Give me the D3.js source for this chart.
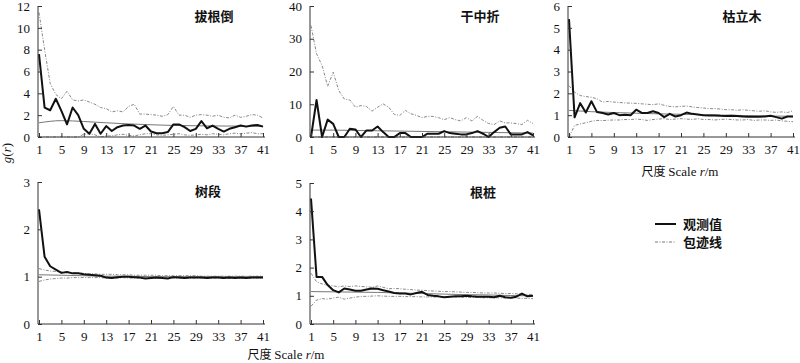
<!DOCTYPE html>
<html lang="en">
<head>
<meta charset="UTF-8">
<title>g(r) panels</title>
<style>
  body { margin: 0; background: #fff; }
  svg { display: block; }
  .ttl { font-family: "Noto Sans CJK SC", sans-serif; font-size: 13px; font-weight: bold; fill: #111; }
</style>
</head>
<body>
<svg id="chart" width="800" height="363"></svg>
<script src="https://d3js.org/d3.v7.min.js"></script>
<script>
// scale r (m), one point per metre
var scaleR = d3.range(1, 42);
// smooth expected curve is read at the tick positions only
var tickR = [1, 5, 9, 13, 17, 21, 25, 29, 33, 37, 41];

// 拔根倒
var obs1 = [7.6, 2.7, 2.45, 3.5, 2.4, 1.15, 2.7, 2.0, 0.75, 0.3, 1.2, 0.3, 1.0, 0.55, 0.9, 1.05, 1.1, 1.05, 0.75, 1.05,
            0.5, 0.35, 0.35, 0.45, 1.15, 1.15, 0.9, 0.55, 0.75, 1.45, 0.8, 1.05, 0.75, 0.5, 0.75, 0.9, 1.05, 0.95, 1.05, 1.1, 0.95];
var up1 = [11.4, 8.0, 4.9, 3.9, 3.5, 4.2, 3.4, 3.3, 3.4, 3.2, 3.0, 2.7, 2.6, 2.3, 2.4, 2.3, 2.8, 3.0, 2.1, 2.1,
           2.05, 2.0, 1.9, 2.05, 2.8, 2.0, 2.0, 1.8, 2.0, 2.05, 2.0, 1.9, 2.0, 1.8, 1.75, 2.0, 1.8, 1.9, 2.05, 2.0, 1.75];
var lo1 = [0, 0, 0, 0, 0, 0, 0, 0, 0.25, 0.3, 0.2, 0, 0.1, 0.1, 0.2, 0.25, 0.15, 0.1, 0.2, 0.3,
           0.3, 0.2, 0.15, 0.2, 0.25, 0.3, 0.2, 0.15, 0.2, 0.25, 0.2, 0.3, 0.25, 0.2, 0.3, 0.35, 0.3, 0.35, 0.4, 0.3, 0.3];
var exp1 = [1.3, 1.5, 1.42, 1.3, 1.2, 1.12, 1.06, 1.03, 1.01, 1.0, 0.98];

// 干中折
var obs2 = [0, 11.3, 0, 5.3, 4.0, 0, 0, 2.5, 2.3, 0, 2.0, 2.0, 3.2, 1.5, 0, 0, 1.2, 1.2, 0, 0,
            0, 1.0, 1.0, 1.0, 1.8, 1.2, 1.0, 0.8, 0.8, 1.2, 1.8, 1.0, 0, 1.5, 2.8, 3.2, 0.8, 0.8, 0.8, 1.5, 0.5];
var up2 = [34, 25.4, 21.8, 15.5, 19.8, 14.2, 11.6, 11.3, 9.1, 9.6, 9.3, 7.9, 9.1, 10.1, 9.1, 6.9, 6.6, 8.1, 7.1, 6.6,
           5.9, 6.3, 6.3, 5.9, 5.3, 5.9, 5.3, 4.9, 5.9, 4.9, 6.3, 5.1, 4.1, 3.8, 4.9, 4.3, 4.3, 4.1, 3.8, 5.1, 4.1];
var lo2 = [0, 0, 0, 0, 0, 0, 0, 0, 0, 0, 0, 0, 0, 0, 0, 0, 0, 0, 0, 0,
           0, 0, 0, 0, 0, 0, 0, 0, 0, 0, 0, 0, 0, 0, 0, 0, 0, 0, 0, 0, 0];
var exp2 = [2.1, 2.1, 2.0, 1.9, 1.8, 1.7, 1.6, 1.5, 1.4, 1.3, 1.2];

// 枯立木
var obs3 = [5.4, 0.9, 1.55, 1.12, 1.64, 1.14, 1.1, 1.03, 1.1, 1.0, 1.02, 1.0, 1.25, 1.1, 1.1, 1.18, 1.1, 0.91, 1.06, 0.94,
            1.0, 1.12, 1.06, 1.03, 1.0, 0.99, 0.99, 0.97, 0.96, 0.97, 0.96, 0.94, 0.93, 0.93, 0.93, 0.94, 0.97, 0.91, 0.84, 0.94, 0.94];
var up3 = [2.35, 2.05, 1.9, 1.85, 1.82, 1.75, 1.6, 1.63, 1.6, 1.58, 1.56, 1.55, 1.54, 1.52, 1.5, 1.48, 1.52, 1.45, 1.4, 1.38,
           1.4, 1.42, 1.38, 1.35, 1.33, 1.3, 1.3, 1.28, 1.25, 1.25, 1.22, 1.25, 1.22, 1.2, 1.18, 1.2, 1.15, 1.13, 1.15, 1.12, 1.2];
var lo3 = [0, 0.53, 0.6, 0.65, 0.72, 0.76, 0.75, 0.77, 0.78, 0.78, 0.8, 0.8, 0.82, 0.8, 0.76, 0.8, 0.82, 0.84, 0.8, 0.82,
           0.84, 0.82, 0.8, 0.84, 0.8, 0.8, 0.78, 0.8, 0.82, 0.8, 0.78, 0.78, 0.8, 0.76, 0.78, 0.78, 0.76, 0.78, 0.74, 0.72, 0.7];
var exp3 = [1.22, 1.16, 1.12, 1.09, 1.06, 1.04, 1.02, 1.0, 0.98, 0.96, 0.95];

// 树段
var obs4 = [2.42, 1.42, 1.22, 1.15, 1.08, 1.1, 1.07, 1.07, 1.05, 1.04, 1.03, 1.02, 0.98, 0.97, 0.99, 1.0, 1.0, 0.99, 0.98, 0.96,
            0.97, 0.98, 0.97, 0.96, 0.99, 0.98, 0.97, 0.98, 0.98, 0.98, 0.97, 0.98, 0.98, 0.97, 0.98, 0.97, 0.98, 0.97, 0.98, 0.98, 0.98];
var up4 = [1.17, 1.14, 1.12, 1.11, 1.1, 1.09, 1.08, 1.08, 1.07, 1.06, 1.06, 1.05, 1.05, 1.05, 1.04, 1.04, 1.04, 1.03, 1.03, 1.03,
           1.03, 1.03, 1.02, 1.02, 1.02, 1.02, 1.02, 1.02, 1.02, 1.01, 1.01, 1.01, 1.01, 1.01, 1.01, 1.01, 1.01, 1.01, 1.01, 1.01, 1.01];
var lo4 = [0.9, 0.93, 0.95, 0.96, 0.97, 0.97, 0.98, 0.98, 0.98, 0.98, 0.98, 0.98, 0.97, 0.97, 0.97, 0.98, 0.97, 0.97, 0.97, 0.97,
           0.97, 0.97, 0.97, 0.97, 0.97, 0.97, 0.97, 0.97, 0.97, 0.97, 0.97, 0.97, 0.97, 0.97, 0.97, 0.97, 0.97, 0.97, 0.97, 0.97, 0.97];
var exp4 = [1.04, 1.03, 1.02, 1.01, 1.01, 1.0, 1.0, 1.0, 1.0, 1.0, 1.0];

// 根桩
var obs5 = [4.45, 1.67, 1.67, 1.38, 1.2, 1.12, 1.26, 1.22, 1.18, 1.18, 1.22, 1.26, 1.25, 1.2, 1.15, 1.1, 1.08, 1.08, 1.05, 1.1,
            1.14, 1.03, 1.0, 0.98, 0.95, 0.97, 0.98, 0.98, 1.0, 0.98, 0.97, 0.97, 0.97, 0.95, 1.0, 0.95, 0.93, 0.97, 1.08, 0.98, 1.0];
var up5 = [1.8, 1.5, 1.42, 1.38, 1.35, 1.32, 1.35, 1.33, 1.35, 1.33, 1.32, 1.3, 1.35, 1.3, 1.25, 1.26, 1.25, 1.23, 1.22, 1.2,
           1.2, 1.18, 1.17, 1.16, 1.15, 1.15, 1.14, 1.13, 1.12, 1.12, 1.11, 1.1, 1.1, 1.1, 1.09, 1.08, 1.08, 1.07, 1.06, 1.05, 1.05];
var lo5 = [0.63, 0.85, 0.9, 0.88, 0.92, 0.95, 0.88, 0.92, 0.95, 0.98, 0.98, 0.99, 1.0, 0.99, 0.98, 0.98, 0.98, 0.97, 0.97, 0.97,
           0.96, 0.96, 0.96, 0.95, 0.95, 0.95, 0.95, 0.95, 0.94, 0.94, 0.94, 0.93, 0.93, 0.93, 0.93, 0.92, 0.92, 0.92, 0.91, 0.91, 0.9];
var exp5 = [1.15, 1.14, 1.13, 1.12, 1.1, 1.08, 1.06, 1.04, 1.03, 1.01, 1.0];

var titles = ['拔根倒', '干中折', '枯立木', '树段', '根桩'];
var yMax = [12, 40, 6, 3, 5];
var yStep = [2, 10, 1, 1, 1];
var legendLabels = ['观测值', '包迹线'];

var SERIF = '"Liberation Serif", "DejaVu Serif", serif';
var svg = d3.select('#chart');

// panel boxes: left/right of the x range, top/bottom of the y range
var boxes = [
  { x0: 39, x1: 263, y0: 137, y1: 6, tx: 214, ty: 21 },
  { x0: 311, x1: 533, y0: 137, y1: 6, tx: 480, ty: 21 },
  { x0: 569, x1: 793, y0: 137, y1: 6, tx: 742, ty: 21 },
  { x0: 39, x1: 263, y0: 324, y1: 182, tx: 208, ty: 196 },
  { x0: 311, x1: 533, y0: 324, y1: 183, tx: 483, ty: 197 }
];
var series = [
  [obs1, up1, lo1, exp1], [obs2, up2, lo2, exp2], [obs3, up3, lo3, exp3],
  [obs4, up4, lo4, exp4], [obs5, up5, lo5, exp5]
];

boxes.forEach(function(b, i) {
  var x = d3.scaleLinear().domain([1, 41]).range([b.x0, b.x1]);
  var y = d3.scaleLinear().domain([0, yMax[i]]).range([b.y0, b.y1]);
  var g = svg.append('g');

  var line = d3.line()
    .x(function(d, j) { return x(scaleR[j]); })
    .y(function(d) { return y(d); });
  var lineExp = d3.line()
    .x(function(d, j) { return x(tickR[j]); })
    .y(function(d) { return y(d); })
    .curve(d3.curveMonotoneX);

  var s = series[i];
  // expected curve
  g.append('path').datum(s[3]).attr('d', lineExp)
    .attr('fill', 'none').attr('stroke', '#777').attr('stroke-width', 1);
  // envelopes
  [s[1], s[2]].forEach(function(arr) {
    g.append('path').datum(arr).attr('d', line)
      .attr('fill', 'none').attr('stroke', '#888').attr('stroke-width', 1)
      .attr('stroke-dasharray', '3,1.5,1,1.5');
  });
  // observed
  g.append('path').datum(s[0]).attr('d', line)
    .attr('fill', 'none').attr('stroke', '#111').attr('stroke-width', 2)
    .attr('stroke-linejoin', 'round');

  // axes, ticks pointing inward
  var ax = g.append('g').attr('transform', 'translate(0,' + b.y0 + ')')
    .call(d3.axisBottom(x).tickValues(tickR).tickFormat(d3.format('d'))
      .tickSize(-4).tickSizeOuter(0).tickPadding(8));
  ax.select('.domain').remove();
  var ay = g.append('g').attr('transform', 'translate(' + (b.x0 - 1) + ',0)')
    .call(d3.axisLeft(y).tickValues(d3.range(0, yMax[i] + 0.001, yStep[i])).tickFormat(d3.format('d'))
      .tickSize(-4).tickSizeOuter(0).tickPadding(8));
  ay.select('.domain').remove();
  [ax, ay].forEach(function(a) {
    a.attr('font-family', SERIF).attr('font-size', 13);
    a.selectAll('text').attr('fill', '#111');
    a.selectAll('line').attr('stroke', '#333');
  });

  g.append('line').attr('x1', b.x0 - 1).attr('x2', b.x1 + 2).attr('y1', b.y0).attr('y2', b.y0)
    .attr('stroke', '#333').attr('stroke-width', 1);
  g.append('line').attr('x1', b.x0 - 1).attr('x2', b.x0 - 1).attr('y1', b.y0).attr('y2', b.y1)
    .attr('stroke', '#333').attr('stroke-width', 1);

  g.append('text').attr('class', 'ttl').attr('x', b.tx).attr('y', b.ty)
    .attr('text-anchor', 'middle').text(titles[i]);
});

// axis titles
function scaleLabel(cx, cy) {
  var t = svg.append('text').attr('x', cx).attr('y', cy).attr('text-anchor', 'middle')
    .attr('font-family', SERIF).attr('font-size', 13).attr('fill', '#111');
  t.append('tspan').attr('font-family', '"Noto Sans CJK SC", sans-serif').attr('font-size', 12).text('尺度 ');
  t.append('tspan').text('Scale ');
  t.append('tspan').attr('font-style', 'italic').text('r');
  t.append('tspan').text('/m');
}
scaleLabel(680, 176);
scaleLabel(286, 359);

var yl = svg.append('text').attr('transform', 'translate(11,153) rotate(-90)').attr('text-anchor', 'middle')
  .attr('font-family', SERIF).attr('font-size', 13).attr('fill', '#111');
yl.append('tspan').attr('font-style', 'italic').text('g');
yl.append('tspan').text('(');
yl.append('tspan').attr('font-style', 'italic').text('r');
yl.append('tspan').text(')');

// legend
var leg = svg.append('g');
legendLabels.forEach(function(lbl, i) {
  var ly = 224 + i * 18;
  leg.append('line').attr('x1', 655).attr('x2', 676).attr('y1', ly).attr('y2', ly)
    .attr('stroke', i === 0 ? '#111' : '#777').attr('stroke-width', i === 0 ? 2 : 1)
    .attr('stroke-dasharray', i === 0 ? null : '3,1.5,1,1.5');
  leg.append('text').attr('x', 683).attr('y', ly + 4.5)
    .attr('font-family', '"Noto Sans CJK SC", sans-serif').attr('font-size', 13)
    .attr('font-weight', 'bold').attr('fill', '#111').text(lbl);
});
</script>
</body>
</html>
